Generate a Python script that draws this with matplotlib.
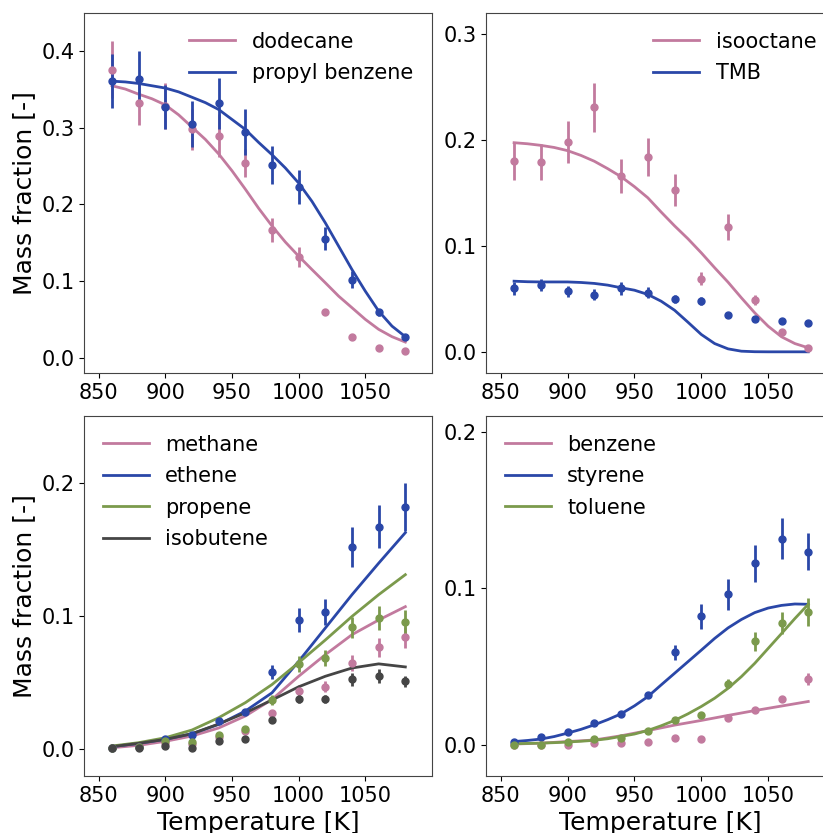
import matplotlib.pyplot as plt

T = [860, 880, 900, 920, 940, 960, 980, 1000, 1020, 1040, 1060, 1080]
T_fine = [860, 870, 880, 890, 900, 910, 920, 930, 940, 950, 960, 970,
          980, 990, 1000, 1010, 1020, 1030, 1040, 1050, 1060, 1070, 1080]

PINK = '#c27a9e'
BLUE = '#2a47a8'
GREEN = '#7b9a4c'
GRAY = '#454545'

# top left: fuel components (model on 10 K grid)
dodecane_exp = [0.376, 0.332, 0.328, 0.298, 0.290, 0.254, 0.167, 0.132, 0.060, 0.027, 0.013, 0.009]
dodecane_err = [0.037, 0.028, 0.030, 0.027, 0.028, 0.018, 0.016, 0.013, 0.004, 0.002, 0.001, 0.001]
dodecane_mod = [0.355, 0.3507, 0.344, 0.338, 0.330, 0.317, 0.301, 0.285, 0.266, 0.244, 0.220, 0.195,
                0.172, 0.151, 0.1325, 0.115, 0.0978, 0.0803, 0.0652, 0.050, 0.037, 0.0274, 0.0204]
propbenz_exp = [0.361, 0.364, 0.327, 0.305, 0.332, 0.295, 0.252, 0.223, 0.155, 0.102, 0.059, 0.027]
propbenz_err = [0.035, 0.036, 0.029, 0.030, 0.033, 0.030, 0.025, 0.022, 0.015, 0.011, 0.004, 0.003]
propbenz_mod = [0.361, 0.360, 0.358, 0.355, 0.352, 0.347, 0.340, 0.333, 0.324, 0.311, 0.298, 0.281,
                0.265, 0.2477, 0.228, 0.204, 0.176, 0.1455, 0.115, 0.0868, 0.0608, 0.0412, 0.0274]

# top right
isooctane_exp = [0.180, 0.179, 0.198, 0.231, 0.166, 0.184, 0.153, 0.069, 0.118, 0.049, 0.019, 0.004]
isooctane_err = [0.018, 0.017, 0.020, 0.023, 0.016, 0.018, 0.015, 0.006, 0.012, 0.005, 0.002, 0.001]
isooctane_mod = [0.1975, 0.1965, 0.195, 0.193, 0.190, 0.1855, 0.180, 0.173, 0.1654, 0.156, 0.1455, 0.132,
                 0.119, 0.1068, 0.0935, 0.0794, 0.0658, 0.051, 0.0368, 0.0242, 0.0142, 0.0078, 0.0038]
tmb_exp = [0.060, 0.063, 0.057, 0.054, 0.060, 0.056, 0.050, 0.048, 0.035, 0.031, 0.029, 0.027]
tmb_err = [0.006, 0.006, 0.005, 0.005, 0.006, 0.005, 0.004, 0.004, 0.002, 0.002, 0.001, 0.001]
tmb_mod = [0.0667, 0.0662, 0.066, 0.066, 0.066, 0.0655, 0.0646, 0.063, 0.0605, 0.0582, 0.0542, 0.0478,
           0.0393, 0.028, 0.0164, 0.0078, 0.0028, 0.0006, 0.0001, 0.0, 0.0, 0.0, 0.0]

# bottom left: light products (model on 20 K grid)
methane_exp = [0.001, 0.002, 0.005, 0.004, 0.009, 0.0137, 0.027, 0.044, 0.047, 0.065, 0.0765, 0.084]
methane_err = [0.0005, 0.0005, 0.001, 0.001, 0.001, 0.0015, 0.002, 0.004, 0.004, 0.006, 0.007, 0.008]
methane_mod = [0.0012, 0.003, 0.006, 0.010, 0.016, 0.025, 0.0374, 0.0548, 0.071, 0.086, 0.097, 0.107]
ethene_exp = [0.001, 0.002, 0.008, 0.0105, 0.021, 0.028, 0.058, 0.097, 0.103, 0.152, 0.167, 0.1815]
ethene_err = [0.0005, 0.0005, 0.001, 0.001, 0.002, 0.002, 0.005, 0.009, 0.010, 0.015, 0.016, 0.018]
ethene_mod = [0.002, 0.0045, 0.0075, 0.0117, 0.0187, 0.0287, 0.0424, 0.066, 0.091, 0.116, 0.1396, 0.1625]
propene_exp = [0.001, 0.002, 0.006, 0.0055, 0.011, 0.0155, 0.037, 0.064, 0.0686, 0.0915, 0.0985, 0.0955]
propene_err = [0.0005, 0.0005, 0.001, 0.001, 0.001, 0.0015, 0.004, 0.006, 0.006, 0.008, 0.009, 0.009]
propene_mod = [0.0025, 0.005, 0.0087, 0.0145, 0.0237, 0.035, 0.0486, 0.065, 0.082, 0.0997, 0.116, 0.131]
isobutene_exp = [0.0008, 0.001, 0.0025, 0.0012, 0.006, 0.008, 0.0217, 0.038, 0.038, 0.0524, 0.055, 0.051]
isobutene_err = [0.0005, 0.0005, 0.0005, 0.0005, 0.001, 0.001, 0.002, 0.003, 0.003, 0.005, 0.005, 0.004]
isobutene_mod = [0.002, 0.0045, 0.0075, 0.0117, 0.019, 0.0274, 0.037, 0.0469, 0.0548, 0.061, 0.0641, 0.0618]

# bottom right: aromatics
benzene_exp = [0.0, 0.0, 0.0, 0.001, 0.001, 0.002, 0.004, 0.0036, 0.017, 0.022, 0.029, 0.042]
benzene_err = [0.0003, 0.0003, 0.0003, 0.0003, 0.0003, 0.0005, 0.0005, 0.0005, 0.001, 0.002, 0.002, 0.004]
benzene_mod = [0.0004, 0.001, 0.002, 0.003, 0.0057, 0.009, 0.0125, 0.0155, 0.0187, 0.0218, 0.0247, 0.0276]
styrene_exp = [0.002, 0.005, 0.008, 0.0138, 0.0197, 0.0316, 0.059, 0.082, 0.096, 0.1158, 0.1317, 0.1234]
styrene_err = [0.0003, 0.0005, 0.0008, 0.001, 0.0015, 0.002, 0.005, 0.008, 0.010, 0.012, 0.013, 0.012]
styrene_mod = [0.002, 0.0027, 0.0036, 0.0052, 0.0074, 0.0098, 0.0127, 0.016, 0.0197, 0.0248, 0.0307, 0.0382,
               0.0456, 0.053, 0.0604, 0.0679, 0.0746, 0.080, 0.0844, 0.0873, 0.089, 0.0899, 0.0897]
toluene_exp = [0.0, 0.0, 0.0017, 0.0036, 0.004, 0.0085, 0.016, 0.0187, 0.039, 0.066, 0.078, 0.0846]
toluene_err = [0.0003, 0.0003, 0.0003, 0.0005, 0.0005, 0.001, 0.001, 0.001, 0.003, 0.006, 0.007, 0.009]
toluene_mod = [0.0006, 0.0008, 0.001, 0.0013, 0.0017, 0.0022, 0.0028, 0.0038, 0.0053, 0.0068, 0.0091, 0.0121,
               0.0155, 0.0197, 0.0244, 0.0297, 0.036, 0.0435, 0.052, 0.0615, 0.071, 0.0806, 0.0897]

plt.rcParams['font.size'] = 15

fig = plt.figure(figsize=(8.23, 8.33), dpi=100)
W, H = 823, 833
boxes = [(84, 13, 432, 373), (486, 13, 835, 373), (84, 416, 432, 776), (486, 416, 835, 776)]
axes = []
for l, t, r, b in boxes:
    axes.append(fig.add_axes([l / W, 1 - b / H, (r - l) / W, (b - t) / H]))

panels = [
    [('dodecane', dodecane_exp, dodecane_err, T_fine, dodecane_mod, PINK),
     ('propyl benzene', propbenz_exp, propbenz_err, T_fine, propbenz_mod, BLUE)],
    [('isooctane', isooctane_exp, isooctane_err, T_fine, isooctane_mod, PINK),
     ('TMB', tmb_exp, tmb_err, T_fine, tmb_mod, BLUE)],
    [('methane', methane_exp, methane_err, T, methane_mod, PINK),
     ('ethene', ethene_exp, ethene_err, T, ethene_mod, BLUE),
     ('propene', propene_exp, propene_err, T, propene_mod, GREEN),
     ('isobutene', isobutene_exp, isobutene_err, T, isobutene_mod, GRAY)],
    [('benzene', benzene_exp, benzene_err, T, benzene_mod, PINK),
     ('styrene', styrene_exp, styrene_err, T_fine, styrene_mod, BLUE),
     ('toluene', toluene_exp, toluene_err, T_fine, toluene_mod, GREEN)],
]
ylims = [(-0.02, 0.45), (-0.02, 0.32), (-0.02, 0.25), (-0.02, 0.21)]
yticks = [[0.0, 0.1, 0.2, 0.3, 0.4], [0.0, 0.1, 0.2, 0.3], [0.0, 0.1, 0.2], [0.0, 0.1, 0.2]]
legend_locs = ['upper right', 'upper right', 'upper left', 'upper left']

for i, ax in enumerate(axes):
    for name, exp, err, tm, mod, c in panels[i]:
        ax.errorbar(T, exp, yerr=err, fmt='o', color=c, ms=5, elinewidth=2, capsize=0)
        ax.plot(tm, mod, color=c, lw=2, label=name)
    ax.set_xlim(839, 1100)
    ax.set_ylim(*ylims[i])
    ax.set_xticks([850, 900, 950, 1000, 1050])
    ax.set_yticks(yticks[i])
    ax.legend(loc=legend_locs[i], frameon=False, fontsize=15, handlelength=2.2,
              handletextpad=0.8, labelspacing=0.55)
    for s in ax.spines.values():
        s.set_color('#444444')

axes[0].set_ylabel('Mass fraction [-]', fontsize=18)
axes[2].set_ylabel('Mass fraction [-]', fontsize=18)
axes[2].set_xlabel('Temperature [K]', fontsize=18)
axes[3].set_xlabel('Temperature [K]', fontsize=18)

fig.savefig('out.png', dpi=100)
